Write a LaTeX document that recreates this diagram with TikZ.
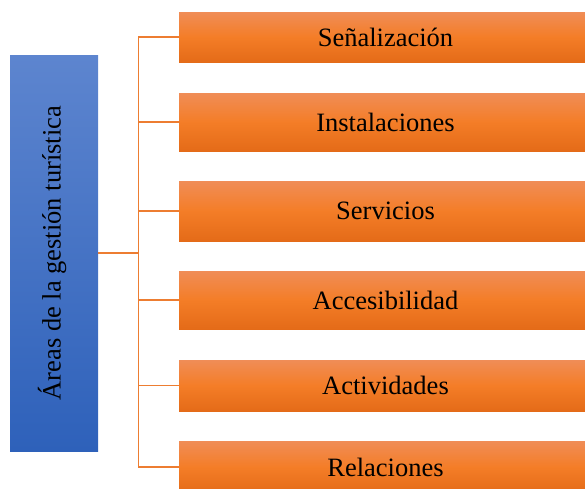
\documentclass[tikz,border=0pt]{standalone}
\usepackage{fontspec}
\setmainfont{Liberation Serif}
\definecolor{otop}{HTML}{F08D57}
\definecolor{omid}{HTML}{F47D27}
\definecolor{obot}{HTML}{E46B18}
\definecolor{btop}{HTML}{5D85CF}
\definecolor{bbot}{HTML}{2E61BA}
\definecolor{conn}{HTML}{ED7D31}
\tikzset{
  obox/.style={inner sep=0pt, minimum width=413pt, top color=otop, bottom color=obot, middle color=omid,
    font=\fontsize{26.5}{30}\selectfont, text=black},
  bbox/.style={inner sep=0pt, minimum width=88pt, minimum height=396pt, top color=btop, bottom color=bbot},
  cline/.style={draw=conn, line width=1.4pt}
}
\begin{document}
\begin{tikzpicture}[x=1pt,y=-1pt]
\useasboundingbox (0,0) rectangle (585,488);
\clip (0,0) rectangle (585,488);
\node[bbox] (b) at (54,253) {};
\node[rotate=90, font=\fontsize{26.5}{30}\selectfont, text=black] (bt) at (52,253) {Áreas de la gestión turística};
\coordinate (j) at (138.7,253);
\node[obox, minimum height=50pt] (s1) at (385.5,37) {Señalización};
\node[obox, minimum height=58pt] (s2) at (385.5,122) {Instalaciones};
\node[obox, minimum height=60pt] (s3) at (385.5,211) {Servicios};
\node[obox, minimum height=58pt] (s4) at (385.5,300) {Accesibilidad};
\node[obox, minimum height=51pt] (s5) at (385.5,385.5) {Actividades};
\node[obox, minimum height=52pt] (s6) at (385.5,467) {Relaciones};
\draw[cline] (b.east) -- (j);
\foreach \k in {s1,s2,s3,s4,s5,s6} \draw[cline] (\k.west) -| (j);
\end{tikzpicture}
\end{document}
